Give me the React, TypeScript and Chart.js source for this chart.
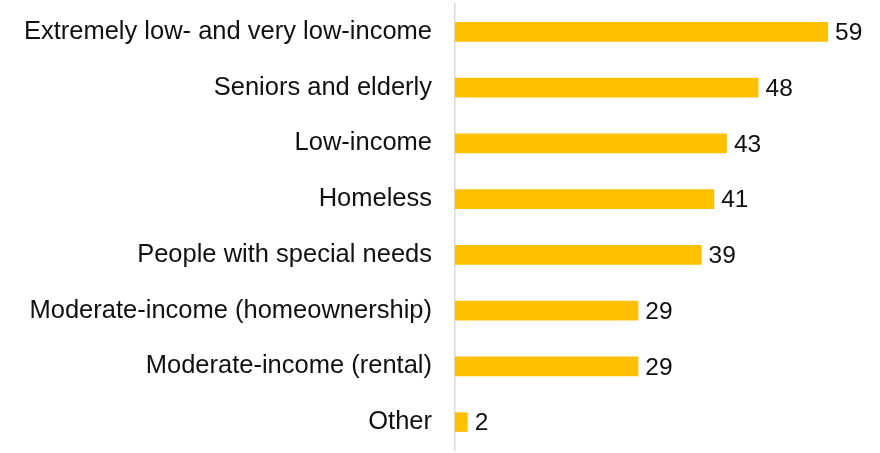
import React, { useEffect, useRef } from "react";
import { Chart, registerables } from "chart.js";

Chart.register(...registerables);

const categories: string[] = [
  "Extremely low- and very low-income",
  "Seniors and elderly",
  "Low-income",
  "Homeless",
  "People with special needs",
  "Moderate-income (homeownership)",
  "Moderate-income (rental)",
  "Other",
];

const values: number[] = [59, 48, 43, 41, 39, 29, 29, 2];

const FONT = "'Liberation Sans', Arial, Helvetica, sans-serif";
const LABEL_SIZE = 25.5;
const VALUE_SIZE = 24.5;
const TEXT_COLOR = "#111111";
const BAR_COLOR = "#FFC000";

const valueLabelPlugin = {
  id: "valueLabels",
  afterDatasetsDraw(chart: any) {
    const ctx = chart.ctx;
    const meta = chart.getDatasetMeta(0);
    ctx.save();
    ctx.font = `${VALUE_SIZE}px ${FONT}`;
    ctx.fillStyle = TEXT_COLOR;
    ctx.textAlign = "left";
    ctx.textBaseline = "middle";
    meta.data.forEach((bar: any, i: number) => {
      ctx.fillText(String(values[i]), bar.x + 7, bar.y + 1.5);
    });
    ctx.restore();
  },
};

export default function App() {
  const ref = useRef<HTMLCanvasElement | null>(null);

  useEffect(() => {
    if (!ref.current) return;
    const chart = new Chart(ref.current, {
      type: "bar",
      data: {
        labels: categories,
        datasets: [
          {
            data: values,
            backgroundColor: BAR_COLOR,
            borderWidth: 0,
            barPercentage: 0.35,
            categoryPercentage: 1,
          },
        ],
      },
      options: {
        indexAxis: "y",
        responsive: false,
        animation: false,
        maintainAspectRatio: false,
        layout: { padding: { left: 0, right: 14, top: 4, bottom: 3 } },
        plugins: {
          legend: { display: false },
          tooltip: { enabled: false },
        },
        scales: {
          x: {
            display: false,
            min: 0,
            max: 65,
          },
          y: {
            afterFit(scale: any) {
              scale.width = 455;
              scale.paddingTop = 0;
              scale.paddingBottom = 0;
            },
            grid: { display: false, drawTicks: false },
            border: { display: true, color: "#d9d9d9", width: 1.5 },
            ticks: {
              padding: 23,
              color: TEXT_COLOR,
              font: { family: FONT, size: LABEL_SIZE },
            },
          },
        },
      },
      plugins: [valueLabelPlugin],
    });
    return () => chart.destroy();
  }, []);

  return (
    <div style={{ position: "absolute", left: 0, top: 0, width: 880, height: 453, background: "#fff" }}>
      <canvas ref={ref} width={880} height={453} />
    </div>
  );
}
